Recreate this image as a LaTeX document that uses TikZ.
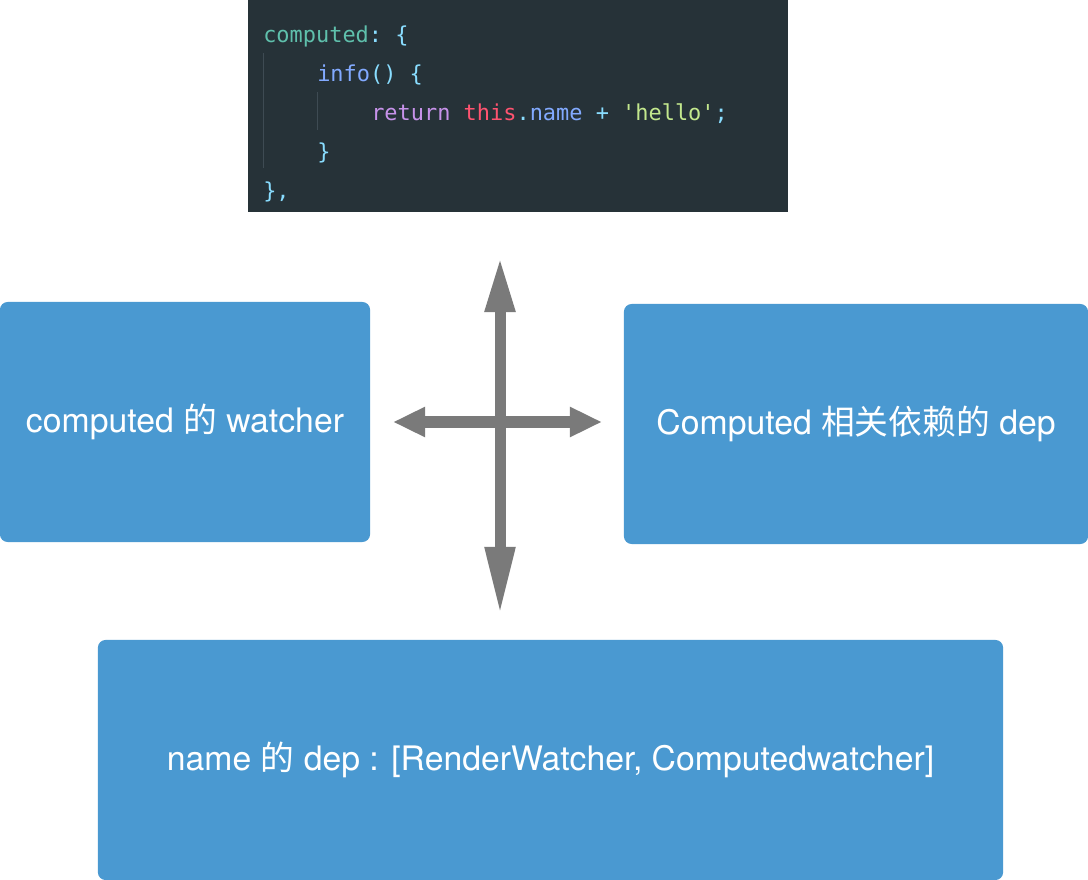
\documentclass[tikz,border=0pt]{standalone}
\usepackage{fontspec}
\setmainfont{TeX Gyre Heros}
\newfontfamily\cjk{Noto Sans CJK SC}
\newfontfamily\codefont{DejaVu Sans Mono}[Ligatures=TeXOff]
\usetikzlibrary{arrows.meta}

\definecolor{boxblue}{HTML}{4A99D1}
\definecolor{codebg}{HTML}{263238}
\definecolor{guide}{HTML}{3E4B53}
\definecolor{cteal}{HTML}{5FC0AC}
\definecolor{ccyan}{HTML}{89DDFF}
\definecolor{cblue}{HTML}{82AAFF}
\definecolor{cpurple}{HTML}{C792EA}
\definecolor{cred}{HTML}{FF5370}
\definecolor{cgreen}{HTML}{C3E88D}
\definecolor{arrowgray}{HTML}{7A7A7A}

\begin{document}
\begin{tikzpicture}[x=0.025cm,y=-0.025cm, % one unit is one pixel of the sketch
  bluebox/.style={fill=boxblue, rounded corners=5.5pt, inner sep=0pt,
                  text=white, font=\fontsize{24}{28}\selectfont},
  codeline/.style={anchor=base west, inner sep=0pt,
                   font=\codefont\fontsize{15.6}{19}\selectfont},
  bigarrow/.style={draw=arrowgray, line width=0.275cm}]
\def\lh{39} % line height of the code
\def\ind{54} % one indent step of the code

\useasboundingbox (0,0) rectangle (1088,880);

% the code snippet
\node [fill=codebg, minimum width=13.5cm, minimum height=5.3cm, inner sep=0pt]
  (code) at (518,106) {};
\draw [guide, line width=0.6pt] (263,53) -- (263,168);
\draw [guide, line width=0.6pt] (263+\ind,92) -- (263+\ind,130);

\node [codeline] (l1) at (263,43)
  {\color{cteal}computed\color{ccyan}:~\{};
\node [codeline] (l2) at (263+\ind,43+\lh)
  {\color{cblue}info\color{ccyan}() \{};
\node [codeline] (l3) at (263+2*\ind,43+2*\lh)
  {\color{cpurple}return \color{cred}this\color{ccyan}.\color{cblue}name
   \color{ccyan}+ \color{cgreen}'hello'\color{ccyan};};
\node [codeline] (l4) at (263+\ind,43+3*\lh) {\color{ccyan}\}};
\node [codeline] (l5) at (263,43+4*\lh) {\color{ccyan}\},};

% the three boxes
\node [bluebox, minimum width=9.25cm, minimum height=6cm]
  (cwatcher) at (185,422) {computed {\cjk 的} watcher};
\node [bluebox, minimum width=11.6cm, minimum height=6cm]
  (cdep) at (856,424) {Computed {\cjk 相关依赖的} dep};
\node [bluebox, minimum width=22.625cm, minimum height=6cm]
  (namedep) at (550.5,760)
  {name {\cjk 的} dep : [RenderWatcher, Computedwatcher]};

% the cross of arrows
\coordinate (up) at (500,257);
\coordinate (down) at (500,615);
\coordinate (left) at (393,422);
\coordinate (right) at (602,422);
\draw [bigarrow, {Triangle[length=1.375cm,width=0.7cm]}-{Triangle[length=1.7cm,width=0.7cm]}]
  (up) -- (down);
\draw [bigarrow, {Triangle[length=0.8cm,width=0.7cm]}-{Triangle[length=0.8cm,width=0.7cm]}]
  (left) -- (right);

\end{tikzpicture}
\end{document}
